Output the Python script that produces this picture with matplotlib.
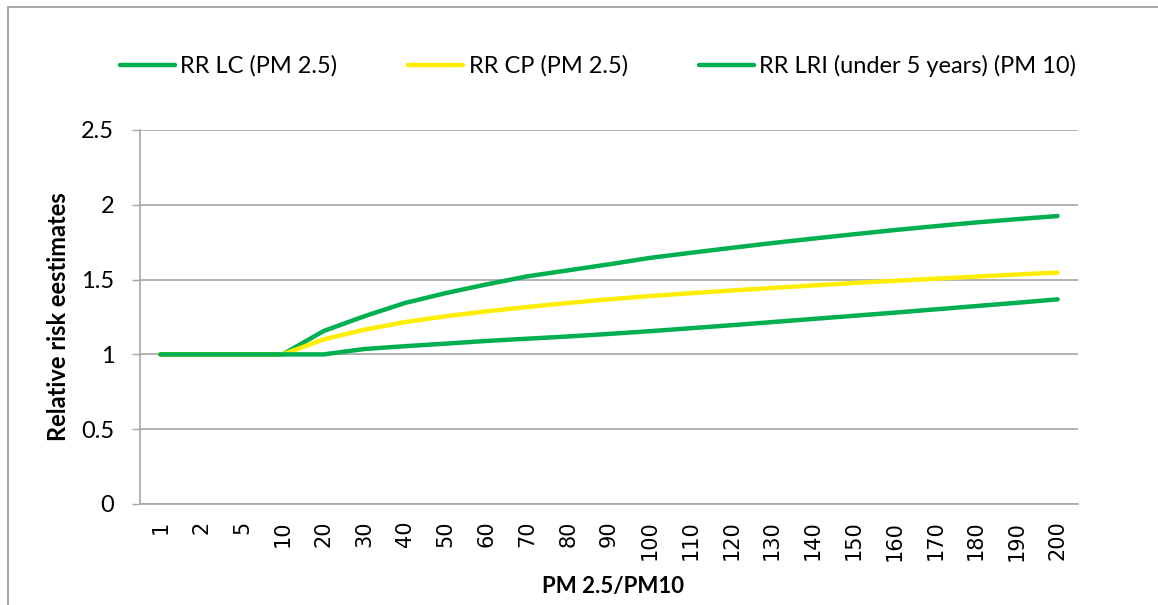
import numpy as np
import matplotlib.pyplot as plt
from matplotlib.lines import Line2D

cats = ["1", "2", "5", "10", "20", "30", "40", "50", "60", "70", "80", "90", "100",
        "110", "120", "130", "140", "150", "160", "170", "180", "190", "200"]
rr_lc = [1, 1, 1, 1, 1.156, 1.255, 1.344, 1.410, 1.468, 1.522, 1.562, 1.602, 1.645,
         1.679, 1.712, 1.744, 1.774, 1.803, 1.831, 1.857, 1.882, 1.904, 1.925]
rr_cp = [1, 1, 1, 1, 1.100, 1.165, 1.216, 1.255, 1.288, 1.317, 1.344, 1.368, 1.390,
         1.409, 1.427, 1.444, 1.461, 1.477, 1.492, 1.506, 1.520, 1.534, 1.547]
rr_lri = [1, 1, 1, 1, 1.0, 1.036, 1.055, 1.072, 1.090, 1.105, 1.120, 1.137, 1.155,
          1.175, 1.195, 1.216, 1.237, 1.258, 1.279, 1.301, 1.323, 1.345, 1.368]
labels = ["RR LC (PM 2.5)", "RR CP (PM 2.5)", "RR LRI (under 5 years) (PM 10)"]

green = "#00B050"
yellow = "#FFEE00"
grid = "#A6A6A6"

plt.rcParams["font.family"] = ["Lato", "DejaVu Sans"]

W, H = 1158, 605
fig = plt.figure(figsize=(W / 100, H / 100), dpi=100)
L, R, T, B = 140, 1078, 130, 504
ax = fig.add_axes([L / W, 1 - B / H, (R - L) / W, (B - T) / H])

x = np.arange(len(cats))
ax.plot(x, rr_lc, c=green, lw=3.2, label=labels[0], solid_capstyle="round")
ax.plot(x, rr_cp, c=yellow, lw=3.2, label=labels[1], solid_capstyle="round")
ax.plot(x, rr_lri, c=green, lw=3.2, label=labels[2], solid_capstyle="round")

ax.set_xlim(-0.5, len(cats) - 0.5)
ax.set_ylim(0, 2.5)
ax.set_yticks([0, 0.5, 1, 1.5, 2, 2.5])
ax.set_yticklabels(["0", "0.5", "1", "1.5", "2", "2.5"], fontsize=17)
ax.set_xticks(x)
ax.set_xticklabels(cats, rotation=90, fontsize=15, family="DejaVu Sans")
ax.tick_params(axis="x", length=0, pad=12)
ax.tick_params(axis="y", length=6, color=grid, width=1, pad=12.5)
ax.grid(axis="y", color=grid, lw=1.2)
ax.set_axisbelow(True)
for s in ["top", "right"]:
    ax.spines[s].set_visible(False)
ax.spines["left"].set_color(grid)
ax.spines["bottom"].set_color(grid)
ax.spines["left"].set_linewidth(1.2)
ax.spines["bottom"].set_linewidth(1.2)

ax.set_ylabel("Relative risk eestimates", fontsize=17, fontweight="bold")
ax.yaxis.set_label_coords((70 - L) / (R - L), 0.5)
fig.text(613 / W, 1 - 587 / H, "PM 2.5/PM10", fontsize=16, fontweight="bold",
         ha="center", va="center")

fig.legend(loc="center", bbox_to_anchor=(598 / W, 1 - 66 / H), ncol=3,
           frameon=False, fontsize=17, handlelength=2.33, handletextpad=0.22,
           columnspacing=3.0)

# outer chart frame
fig.add_artist(Line2D([8 / W, 1], [1 - 7 / H, 1 - 7 / H], color="#9a9a9a", lw=1.2))
fig.add_artist(Line2D([8 / W, 8 / W], [0, 1 - 7 / H], color="#a8a8a8", lw=1.5))

fig.savefig("out.png", dpi=100)
plt.close()
